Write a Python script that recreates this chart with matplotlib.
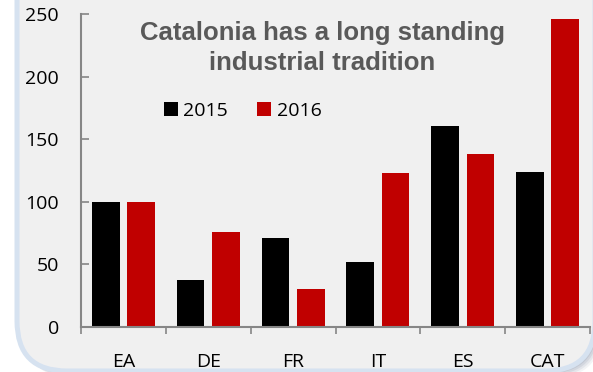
import matplotlib
matplotlib.use("Agg")
import matplotlib.pyplot as plt
from matplotlib.patches import FancyBboxPatch, Patch
import numpy as np

# Index values by region
regions = ["EA", "DE", "FR", "IT", "ES", "CAT"]
values_2015 = [100, 37.5, 71, 52, 161, 124]
values_2016 = [100, 76, 30, 123, 138, 246]
series_labels = ["2015", "2016"]
series_colors = ["#000000", "#C00000"]
y_ticks = [0, 50, 100, 150, 200, 250]
title = "Catalonia has a long standing\nindustrial tradition"

W, H, DPI = 593, 372, 100
fig = plt.figure(figsize=(W / DPI, H / DPI), dpi=DPI)
fig.patch.set_facecolor("white")

# Rounded panel with a soft drop shadow (pixel coordinates)
box = "round,pad=0,rounding_size=50"
for i, a in enumerate([0.10, 0.14, 0.18, 0.22]):
    d = 7 - 1.5 * i
    fig.patches.append(FancyBboxPatch((17 + d, 1 - d), 578, 450, boxstyle=box,
                                      transform=None, facecolor="#8A96AC",
                                      edgecolor="none", alpha=a, zorder=-3))
panel = FancyBboxPatch((17, 1), 578, 450, boxstyle=box, transform=None,
                       facecolor="#F0F0F0", edgecolor="#D6E2F0",
                       linewidth=3.6, zorder=-2)
fig.patches.append(panel)

ax = fig.add_axes([81 / W, 45 / H, 509 / W, 312.7 / H])
ax.set_facecolor("none")

x = np.arange(len(regions))
offset, width = 0.208, 0.325
ax.bar(x - offset, values_2015, width, color=series_colors[0], edgecolor="none")
ax.bar(x + offset, values_2016, width, color=series_colors[1], edgecolor="none")

ax.set_xlim(-0.5, len(regions) - 0.5)
ax.set_ylim(0, 250)

tick_font = dict(family="Open Sans", size=14)
axis_gray = "#868686"

ax.set_yticks(y_ticks)
ax.set_yticklabels([str(v) for v in y_ticks], **tick_font)
ax.tick_params(axis="y", direction="in", length=6, width=1.2, color=axis_gray, pad=16)

ax.set_xticks(np.arange(-0.5, len(regions), 1.0))
ax.set_xticklabels([])
ax.tick_params(axis="x", which="major", direction="out", length=5, width=1.2, color=axis_gray)
ax.set_xticks(x, minor=True)
ax.set_xticklabels(regions, minor=True, **tick_font)
ax.tick_params(axis="x", which="minor", length=0, pad=19)

for side in ("top", "right"):
    ax.spines[side].set_visible(False)
for side in ("left", "bottom"):
    ax.spines[side].set_color(axis_gray)
    ax.spines[side].set_linewidth(1.5)

fig.text(322 / W, 1 - 21 / H, title, ha="center", va="top",
         family="Liberation Sans", weight="bold", size=18.5, color="#595959",
         linespacing=1.3)

handles = [Patch(facecolor=c, edgecolor="none") for c in series_colors]
fig.legend(handles, series_labels, loc="center left",
           bbox_to_anchor=(164 / W, 1 - 111 / H), ncol=2, frameon=False,
           prop=dict(family="Open Sans", size=14), handlelength=0.7,
           handleheight=0.7, handletextpad=0.3, columnspacing=1.5,
           borderaxespad=0, borderpad=0)

fig.savefig("out.png", dpi=DPI)
